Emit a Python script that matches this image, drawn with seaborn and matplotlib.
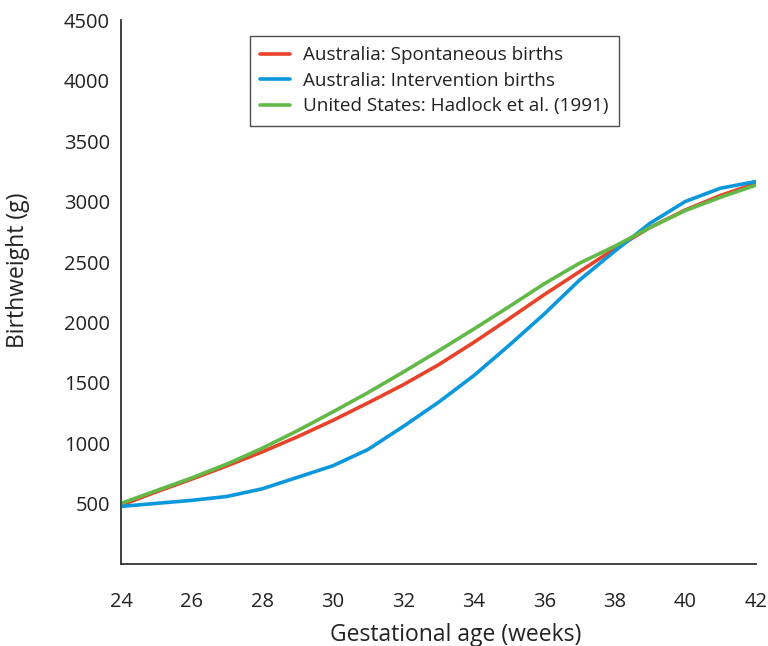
import numpy as np
import pandas as pd
import matplotlib
matplotlib.use("Agg")
import matplotlib.pyplot as plt
import seaborn as sns

weeks = list(range(24, 43))
spontaneous = [490, 600, 705, 815, 930, 1055, 1190, 1335, 1485, 1650, 1835, 2030, 2230, 2420, 2610, 2785, 2930, 3050, 3150]
intervention = [480, 505, 530, 562, 625, 720, 815, 950, 1140, 1340, 1560, 1810, 2070, 2350, 2590, 2820, 3000, 3110, 3165]
hadlock = [505, 610, 715, 830, 960, 1105, 1260, 1420, 1590, 1765, 1945, 2130, 2320, 2490, 2630, 2785, 2925, 3035, 3135]
series_names = ["Australia: Spontaneous births", "Australia: Intervention births",
                "United States: Hadlock et al. (1991)"]
colors = ["#E8432A", "#0A97DC", "#62B947"]

df = pd.concat([
    pd.DataFrame({"week": weeks, "weight": vals, "series": name})
    for name, vals in zip(series_names, [spontaneous, intervention, hadlock])
])

sns.set_theme(style="white")
plt.rcParams['font.family'] = ['Open Sans', 'DejaVu Sans']

fig = plt.figure(figsize=(7.68, 6.46), dpi=100)
ax = fig.add_axes([0.1576, 0.1262, 0.8265, 0.8428])

sns.lineplot(data=df, x="week", y="weight", hue="series", hue_order=series_names,
             palette=colors, linewidth=2.6, ax=ax, legend=True)

ax.set_xlim(24, 42)
ax.set_ylim(0, 4500)
ax.set_xticks(range(24, 43, 2))
ax.set_yticks(range(500, 4501, 500))
ax.tick_params(axis='both', direction='in', length=10, width=1.2, color='#333333',
               labelsize=14.5, labelcolor='#222222')
ax.tick_params(axis='x', pad=20)
ax.tick_params(axis='y', pad=8)
for s in ['top', 'right']:
    ax.spines[s].set_visible(False)
for s in ['left', 'bottom']:
    ax.spines[s].set_color('#333333')
    ax.spines[s].set_linewidth(1.3)

ax.set_xlabel("Gestational age (weeks)", fontsize=16.5, color='#222222')
ax.set_ylabel("Birthweight (g)", fontsize=16.5, color='#222222')
ax.xaxis.set_label_coords(0.528, -0.107)
ax.yaxis.set_label_coords(-0.143, 0.541)

leg = ax.legend(loc='upper left', bbox_to_anchor=(0.203, 0.971), frameon=True,
                fancybox=False, edgecolor='#222222', fontsize=13.6, handlelength=1.55,
                handletextpad=0.7, borderpad=0.55, labelspacing=0.4,
                borderaxespad=0, title=None)
leg.get_frame().set_linewidth(1.0)
for t in leg.get_texts():
    t.set_color('#222222')

fig.savefig("out.png", dpi=100)
